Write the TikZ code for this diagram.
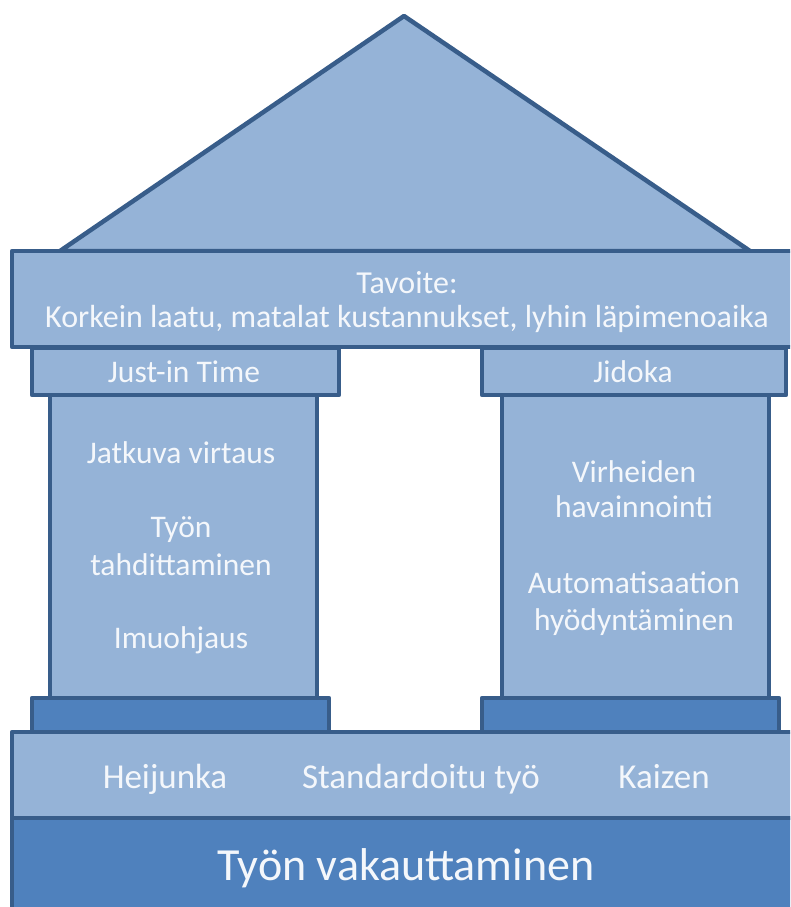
\documentclass[tikz,border=0pt]{standalone}
\usepackage{fontspec}
\setmainfont{Carlito}
\definecolor{lightfill}{HTML}{95B3D7}
\definecolor{darkfill}{HTML}{4F81BD}
\definecolor{edge}{HTML}{385D8A}
\definecolor{txt}{HTML}{F4F7FB}
\tikzset{
  part/.style={draw=edge, line width=4.5pt, line join=round},
  lightpart/.style={part, fill=lightfill},
  darkpart/.style={part, fill=darkfill},
  lbl/.style={text=txt, anchor=base, inner sep=0pt, font=\fontsize{31.5}{36}\selectfont},
  toplbl/.style={lbl, font=\fontsize{32}{36}\selectfont},
  baselbl/.style={lbl, font=\fontsize{35}{40}\selectfont},
  biglbl/.style={lbl, font=\fontsize{46}{52}\selectfont},
}
\begin{document}
\begin{tikzpicture}[x=1pt,y=-1pt]
\useasboundingbox (0,0) rectangle (790,907);
\clip (0,0) rectangle (790,907);
% roof
\draw[lightpart] (60,251) -- (404,16) -- (750,251) -- cycle;
% goal beam
\draw[lightpart] (12,251) rectangle (800,347);
% foundation
\draw[lightpart] (12,732) rectangle (800,818);
\draw[darkpart] (12,818) rectangle (800,920);
% left pillar
\draw[lightpart] (50,395) rectangle (317,698);
\draw[lightpart] (32,348) rectangle (339,395);
\draw[darkpart] (32,698) rectangle (329,732);
% right pillar
\draw[lightpart] (502,395) rectangle (769,698);
\draw[lightpart] (482,348) rectangle (786,395);
\draw[darkpart] (482,698) rectangle (779,732);
% texts
\node[toplbl] (goal1) at (407,293) {Tavoite:};
\node[toplbl] (goal2) at (407,327) {Korkein laatu, matalat kustannukset, lyhin läpimenoaika};
\node[lbl] (jit) at (184,382) {Just-in Time};
\node[lbl] (jid) at (633,382) {Jidoka};
\node[lbl] (l1) at (181,463) {Jatkuva virtaus};
\node[lbl] (l2a) at (181,537) {Työn};
\node[lbl] (l2b) at (181,575) {tahdittaminen};
\node[lbl] (l3) at (181,648) {Imuohjaus};
\node[lbl] (r1a) at (634,482) {Virheiden};
\node[lbl] (r1b) at (634,517) {havainnointi};
\node[lbl] (r2a) at (634,593) {Automatisaation};
\node[lbl] (r2b) at (634,630) {hyödyntäminen};
\node[baselbl] (b1) at (165,788) {Heijunka};
\node[baselbl] (b2) at (421,788) {Standardoitu työ};
\node[baselbl] (b3) at (664,788) {Kaizen};
\node[biglbl] (found) at (406,880) {Työn vakauttaminen};
\end{tikzpicture}
\end{document}
